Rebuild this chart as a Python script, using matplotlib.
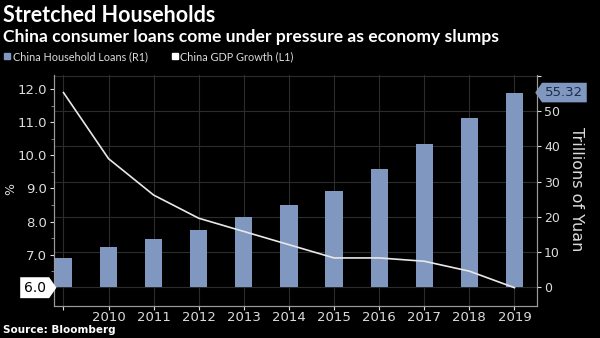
import matplotlib
matplotlib.use('Agg')
import matplotlib.pyplot as plt
from matplotlib.path import Path
from matplotlib.lines import Line2D

years = [2009, 2010, 2011, 2012, 2013, 2014, 2015, 2016, 2017, 2018, 2019]
year_labels = ['', '2010', '2011', '2012', '2013', '2014', '2015', '2016', '2017', '2018', '2019']
loans = [8.4, 11.5, 13.8, 16.3, 20.1, 23.4, 27.4, 33.6, 40.7, 48.2, 55.32]
gdp = [11.9, 9.9, 8.8, 8.1, 7.7, 7.3, 6.9, 6.9, 6.8, 6.5, 6.0]
pct_ticks = [6, 7, 8, 9, 10, 11, 12]
pct_labels = ['', '7.0', '8.0', '9.0', '10.0', '11.0', '12.0']
yuan_ticks = [0, 10, 20, 30, 40, 50, 60]
yuan_labels = ['0', '10', '20', '30', '40', '50', '']

bg = '#000000'
bar_col = '#8098bf'
txt = '#dcdcdc'
grid_col = '#2c2c2c'
spine_col = '#9a9a9a'

plt.rcParams['font.family'] = ['DejaVu Sans']


def tag_right(x0, y0, width, height, mutation_size):
    pad = mutation_size * 0.25
    x0 -= pad; y0 -= pad; width += 2 * pad; height += 2 * pad
    tip = height * 0.35
    v = [(x0, y0), (x0 + width, y0), (x0 + width + tip, y0 + height / 2),
         (x0 + width, y0 + height), (x0, y0 + height), (x0, y0)]
    return Path(v, closed=True)


def tag_left(x0, y0, width, height, mutation_size):
    pad = mutation_size * 0.25
    x0 -= pad; y0 -= pad; width += 2 * pad; height += 2 * pad
    tip = height * 0.35
    v = [(x0, y0), (x0 + width, y0), (x0 + width, y0 + height),
         (x0, y0 + height), (x0 - tip, y0 + height / 2), (x0, y0)]
    return Path(v, closed=True)


fig = plt.figure(figsize=(6, 3.38), dpi=100, facecolor=bg)
ax = fig.add_axes([0.09, 0.095, 0.805, 0.683])
ax.set_facecolor(bg)

# bars on the right axis
ax.bar(years, loans, width=0.38, color=bar_col, zorder=2)
ax.set_ylim(-5.3, 60.3)
ax.set_xlim(2008.79, 2019.5)
ax.set_yticks(yuan_ticks)
ax.set_yticklabels(yuan_labels)
ax.set_xticks(years)
ax.set_xticklabels(year_labels)
ax.grid(True, color=grid_col, linewidth=0.8)
ax.set_axisbelow(True)
ax.tick_params(colors=txt, labelsize=9, length=3, width=0.8)
ax.tick_params(axis='y', pad=2)
ax.tick_params(axis='x', pad=1, labelsize=9.5)

# GDP line on the left axis
ax2 = ax.twinx()
ax2.plot(years, gdp, color='#e8e8e8', linewidth=1.2, zorder=3)
ax2.set_ylim(5.45, 12.43)
ax2.yaxis.tick_left()
ax2.set_yticks(pct_ticks)
ax2.set_yticklabels(pct_labels)
ax2.set_yticks([6.5, 7.5, 8.5, 9.5, 10.5, 11.5], minor=True)
ax2.tick_params(colors=txt, labelsize=9.5, length=3, width=0.8, pad=2)
ax2.tick_params(which='minor', colors=spine_col, length=2, width=0.6)

ax.yaxis.tick_right()

for a in (ax, ax2):
    a.spines['top'].set_visible(False)
    for s in ['left', 'right', 'bottom']:
        a.spines[s].set_color(spine_col)
        a.spines[s].set_linewidth(0.8)

fig.text(0.96, 0.44, 'Trillions of Yuan', color=txt, fontsize=11.5, rotation=270,
         ha='center', va='center')
fig.text(0.018, 0.44, '%', color=txt, fontsize=9, rotation=90, ha='center', va='center')

# value tags
ax2.annotate('6.0', xy=(0, gdp[-1]), xycoords=('axes fraction', 'data'),
             xytext=(-6, 0), textcoords='offset points', ha='right', va='center',
             fontsize=10, color='#000000',
             bbox=dict(boxstyle=tag_right, fc='#ffffff', ec='none'))
ax.annotate('55.32', xy=(1, loans[-1]), xycoords=('axes fraction', 'data'),
            xytext=(6, 0), textcoords='offset points', ha='left', va='center',
            fontsize=9.5, color='#1c2c4c',
            bbox=dict(boxstyle=tag_left, fc=bar_col, ec='none'))

# titles
fig.text(0.005, 0.985, 'Stretched Households', color='#ffffff', fontsize=15.5,
         fontweight='bold', ha='left', va='top', family=['Lato', 'DejaVu Sans'])
fig.text(0.005, 0.915, 'China consumer loans come under pressure as economy slumps',
         color='#ffffff', fontsize=12.6, fontweight='bold', ha='left', va='top',
         family=['Lato', 'DejaVu Sans'])

# legend
handles = [Line2D([], [], marker='s', linestyle='none', color=bar_col, markersize=5),
           Line2D([], [], marker='s', linestyle='none', color='#ffffff', markersize=5)]
leg = fig.legend(handles, ['China Household Loans (R1)', 'China GDP Growth (L1)'],
                 loc='upper left', bbox_to_anchor=(0.003, 0.855), ncol=2, frameon=False,
                 prop={'family': ['Lato', 'DejaVu Sans'], 'size': 7.8},
                 handlelength=0.6, handletextpad=0.2, columnspacing=2.2,
                 borderpad=0.2, borderaxespad=0)
for t in leg.get_texts():
    t.set_color(txt)

fig.text(0.005, 0.008, 'Source: Bloomberg', color='#ffffff', fontsize=7.5,
         fontweight='bold', ha='left', va='bottom')

fig.savefig('out.png', dpi=100, facecolor=bg)
